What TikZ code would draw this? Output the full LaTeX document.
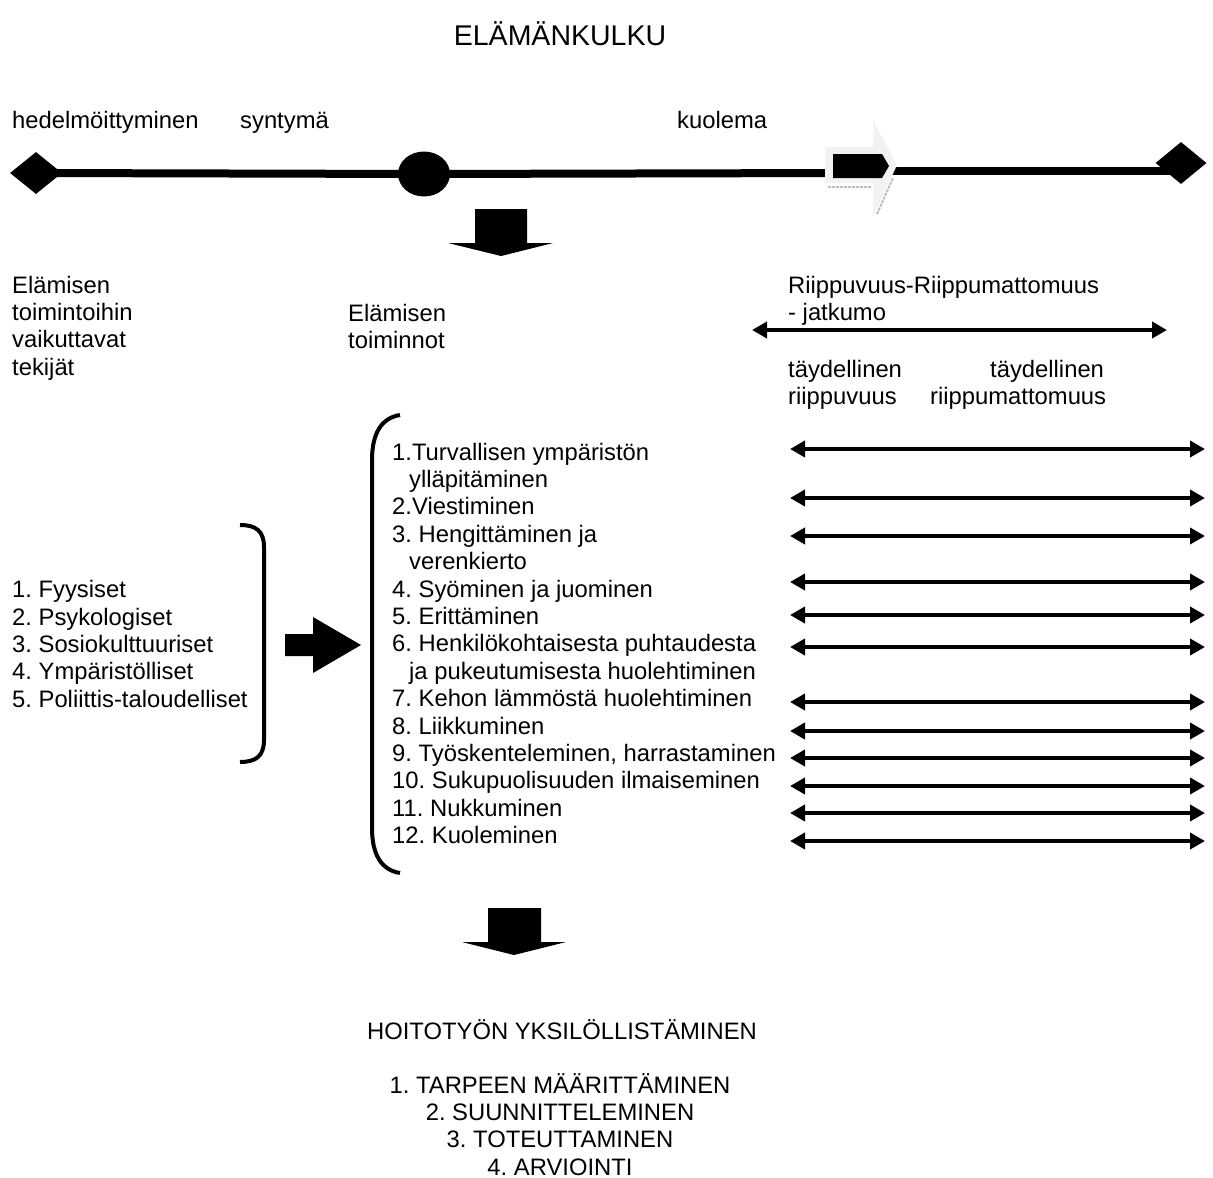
\documentclass[tikz,border=0pt]{standalone}
\usepackage{fontspec}
\setmainfont{Liberation Sans}
\usetikzlibrary{arrows.meta,shapes.geometric}
\frenchspacing

\begin{document}
\begin{tikzpicture}[x=1pt,y=-1pt,
    txt/.style={anchor=base west,inner sep=0pt,font=\fontsize{23.8}{27.4}\selectfont},
    ctxt/.style={txt,anchor=base},
    twoway/.style={{Triangle[length=15pt,width=16pt]}-{Triangle[length=15pt,width=16pt]},line width=4pt},
    bracket/.style={line width=4pt},
    lifeline/.style={line width=8pt},
    blob/.style={fill=black,inner sep=0pt}]

        \useasboundingbox (0,0) rectangle (1213,1178);

        \node[ctxt,font=\fontsize{28.5}{30}\selectfont] (title) at (560,45) {ELÄMÄNKULKU};

        \node[txt] (hed) at (12,128) {hedelmöittyminen};
        \node[txt] (syn) at (240,128) {syntymä};
        \node[txt] (kuo) at (677,128) {kuolema};

        \node[blob,diamond,minimum width=52pt,minimum height=42pt] (conc) at (36,173) {};
        \node[blob,ellipse,minimum width=52pt,minimum height=45pt] (birth) at (424,174) {};
        \node[blob,diamond,minimum width=51pt,minimum height=42pt] (end) at (1181,163) {};
        \coordinate (death) at (845,173);
        \coordinate (after) at (890,171);
        \coordinate (endline) at (1175,171);

        \draw[lifeline] (conc.center) -- (birth.center) -- (death);
        \draw[lifeline] (after) -- (endline);

        % kuolema
        \fill[gray!10] (825,147) -- (873,147) -- (873,120) -- (897,165) -- (873,217) -- (873,183) -- (825,183) -- cycle;
        \draw[gray!50,line width=2pt,dash pattern=on 3pt off 1pt] (828,187) -- (872,187) (877,214) -- (893,178);
        \fill (833,154) -- (882,154) -- (889,166) -- (882,178) -- (833,178) -- cycle;

        \fill (475,209) -- (527,209) -- (527,243) -- (553,243) -- (501,256) -- (448,243) -- (475,243) -- cycle;

        \foreach \t [count=\i from 0] in {Elämisen,toimintoihin,vaikuttavat,tekijät}
            \node[txt] (fac\i) at (12,{293+27.4*\i}) {\t};
        \node[txt] (act0) at (348,321) {Elämisen};
        \node[txt] (act1) at (348,348.4) {toiminnot};

        \node[txt] (dep0) at (788,293) {Riippuvuus-Riippumattomuus};
        \node[txt] (dep1) at (788,320.4) {- jatkumo};
        \coordinate (contl) at (752,330);
        \coordinate (contr) at (1167,330);
        \draw[twoway] (contl) -- (contr);
        \node[txt] (full0) at (788,377) {täydellinen};
        \node[txt] (full1) at (788,404.4) {riippuvuus};
        \node[txt] (free0) at (990,377) {täydellinen};
        \node[txt] (free1) at (930,404.4) {riippumattomuus};

        \foreach \t [count=\i from 0] in {1. Fyysiset,2. Psykologiset,3. Sosiokulttuuriset,4. Ympäristölliset,5. Poliittis-taloudelliset}
            \node[txt] (cause\i) at (12,{597.6+27.4*\i}) {\t};

        \draw[bracket] (240,525) .. controls (256,525) and (264,531) .. (264,547) -- (264,740) .. controls (264,756) and (256,762) .. (240,762);
        \fill (285,634) -- (313,634) -- (313,617) -- (361,645) -- (313,673) -- (313,656) -- (285,656) -- cycle;
        \draw[bracket] (400,415) .. controls (381,418) and (372,434) .. (372,460) -- (372,828) .. controls (372,854) and (381,870) .. (400,873);

        \foreach \x/\t [count=\i from 0] in {392/1.Turvallisen ympäristön,409/ylläpitäminen,392/2.Viestiminen,
            392/3. Hengittäminen ja,409/verenkierto,392/4. Syöminen ja juominen,392/5. Erittäminen,
            392/6. Henkilökohtaisesta puhtaudesta,409/ja pukeutumisesta huolehtiminen,
            392/7. Kehon lämmöstä huolehtiminen,392/8. Liikkuminen,392/{9. Työskenteleminen, harrastaminen},
            392/10. Sukupuolisuuden ilmaiseminen,392/11. Nukkuminen,392/12. Kuoleminen}
            \node[txt] (line\i) at (\x,{460+27.4*\i}) {\t};

        \foreach \y [count=\i] in {449,498,536,582,615,647,702,731,758,786,813,841} {
            \coordinate (dl\i) at (790,\y);
            \coordinate (dr\i) at (1205,\y);
            \draw[twoway] (dl\i) -- (dr\i);
        }

        \fill (488,908) -- (541,908) -- (541,942) -- (566,942) -- (514,955) -- (462,942) -- (488,942) -- cycle;

        \node[ctxt] (care) at (562,1039) {HOITOTYÖN YKSILÖLLISTÄMINEN};
        \foreach \t [count=\i from 0] in {1. TARPEEN MÄÄRITTÄMINEN,2. SUUNNITTELEMINEN,3. TOTEUTTAMINEN,4. ARVIOINTI}
            \node[ctxt] (step\i) at (560,{1093+27.4*\i}) {\t};
      \end{tikzpicture}
\end{document}
